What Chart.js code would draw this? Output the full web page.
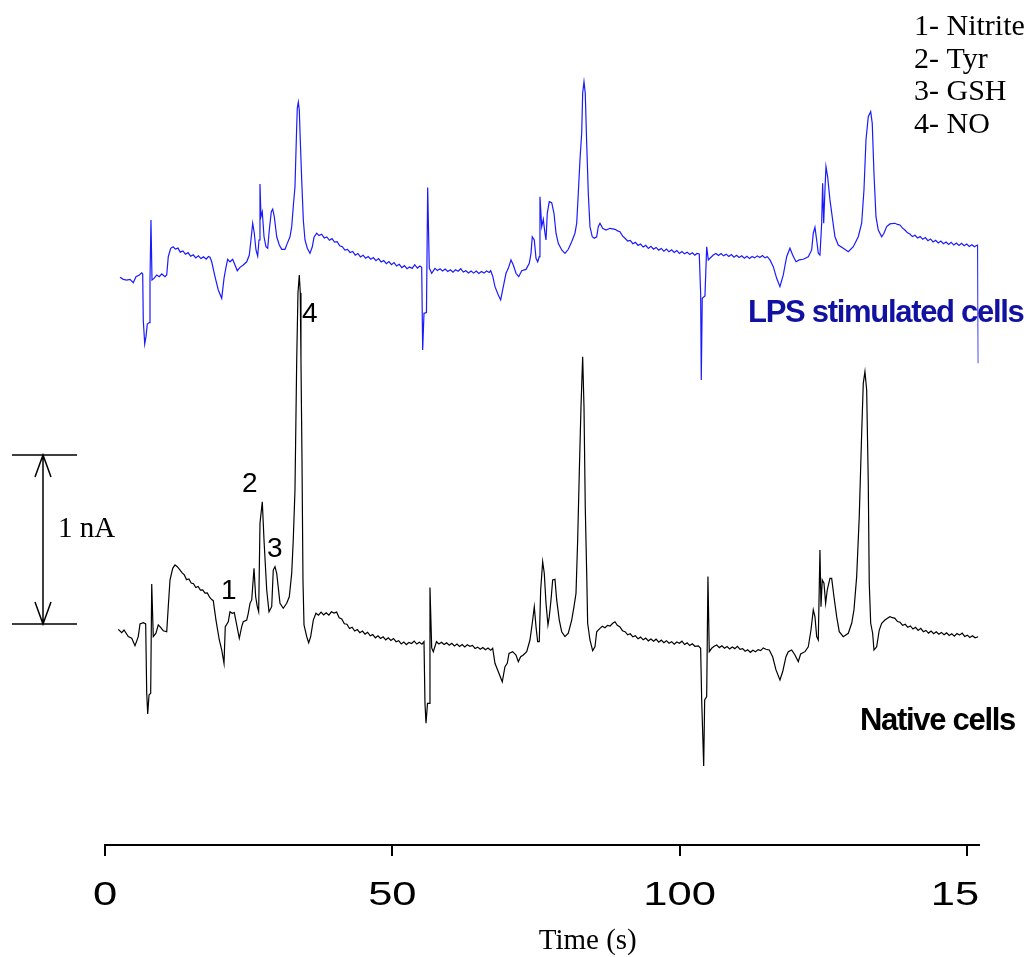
<!DOCTYPE html>
<html>
<head>
<meta charset="utf-8">
<title>Amperometric traces</title>
<script src="https://cdn.jsdelivr.net/npm/chart.js@4/dist/chart.umd.min.js"></script>
<style>
  html, body { margin: 0; padding: 0; background: #fff; }
  #wrap { width: 1033px; height: 957px; position: relative; }
</style>
</head>
<body>
<div id="wrap"><canvas id="c" width="1033" height="957"></canvas></div>
<script>
// Electropherogram traces as [time (s), current (nA, stacked offset)]
const nativeTrace = [
  [2.31,1.276],[2.91,1.256],[3.31,1.272],[4.05,1.233],[4.65,1.223],[5.22,1.179],[5.79,1.233],[6.09,1.308],[6.66,1.315],[7.08,1.308],
  [7.26,0.898],[7.43,0.775],[7.66,0.888],[7.95,0.898],[8.13,1.544],[8.40,1.233],[8.87,1.253],[9.27,1.302],[9.57,1.292],[10.14,1.268],
  [10.74,1.262],[11.01,1.410],[11.31,1.568],[11.78,1.637],
  [12.18,1.657],[12.58,1.647],[13.00,1.630],[13.40,1.612],[13.80,1.598],[14.20,1.570],[14.60,1.574],[15.00,1.550],[15.40,1.546],[15.80,1.524],
  [16.20,1.530],[16.60,1.508],[17.00,1.510],[17.40,1.490],[17.80,1.492],[18.20,1.466],[18.57,1.452],[18.84,1.446],
  [19.31,1.331],[19.89,1.213],[20.31,1.154],[20.71,1.075],[20.93,1.292],[21.45,1.321],[21.75,1.380],
  [22.15,1.371],[22.50,1.375],[22.92,1.302],[23.37,1.223],[23.79,1.292],[24.06,1.321],[24.66,1.331],[24.93,1.371],[25.23,1.430],[25.53,1.450],
  [25.93,1.637],[26.22,1.469],[26.50,1.410],[26.74,1.380],[26.97,1.904],[27.37,2.031],[27.67,1.805],[28.14,1.509],[28.54,1.380],[29.01,1.410],
  [29.28,1.627],[29.58,1.647],[29.88,1.608],[30.45,1.430],[31.02,1.401],[31.62,1.430],[32.07,1.469],[32.49,1.608],[32.76,1.805],[33.06,2.101],
  [33.36,2.870],[33.58,3.266],[33.81,3.373],[33.98,3.266],[34.10,2.870],[34.28,2.278],[34.45,1.568],[34.63,1.302],[35.10,1.233],[35.44,1.197],
  [35.79,1.233],[36.25,1.331],
  [36.71,1.371],[37.15,1.360],[37.60,1.378],[38.05,1.362],[38.50,1.374],[38.95,1.360],[39.40,1.380],[39.85,1.372],[40.30,1.378],[40.75,1.344],
  [41.20,1.338],[41.65,1.309],[42.10,1.306],[42.55,1.281],[43.00,1.289],[43.45,1.266],[43.90,1.275],[44.35,1.256],[44.80,1.266],[45.25,1.248],
  [45.70,1.259],[46.15,1.238],[46.60,1.245],[47.05,1.226],[47.50,1.238],[47.95,1.222],[48.40,1.232],[48.85,1.214],[49.30,1.226],[49.75,1.210],
  [50.20,1.222],[50.65,1.203],[51.10,1.209],[51.55,1.190],[52.00,1.201],[52.45,1.186],[52.90,1.199],[53.35,1.192],[53.80,1.207],[54.25,1.189],
  [54.70,1.200],[55.15,1.188],[55.51,1.203],
  [55.68,0.838],[55.86,0.720],[56.12,0.838],[56.43,0.838],[56.55,1.524],[56.85,1.166],[57.13,1.144],
  [57.68,1.203],[58.10,1.190],[58.55,1.200],[59.00,1.186],[59.45,1.196],[59.90,1.182],[60.35,1.194],[60.80,1.178],[61.25,1.189],[61.70,1.175],
  [62.15,1.186],[62.60,1.172],[63.05,1.185],[63.50,1.176],[63.95,1.181],[64.40,1.163],[64.85,1.171],[65.30,1.158],[65.75,1.169],[66.20,1.155],
  [66.65,1.165],[67.10,1.152],[67.46,1.164],
  [67.86,1.075],[68.44,1.025],[69.13,0.966],[69.60,1.055],[70.00,1.075],[70.30,1.134],[70.94,1.144],[71.52,1.124],[71.92,1.085],[72.33,1.114],
  [72.79,1.124],[73.38,1.144],[73.95,1.213],[74.35,1.312],[74.70,1.410],[75.00,1.292],[75.29,1.203],[75.57,1.203],[75.81,1.509],[76.16,1.676],
  [76.44,1.608],[76.74,1.430],[77.08,1.302],[77.31,1.351],[77.61,1.450],[77.90,1.568],[78.30,1.572],[78.60,1.450],[79.05,1.331],[79.47,1.262],
  [80.04,1.233],[80.62,1.253],[81.21,1.331],[81.61,1.410],[81.96,1.489],[82.25,1.805],[82.53,2.199],[82.83,2.594],[83.12,2.889],[83.35,2.594],
  [83.57,2.002],[83.82,1.608],[83.99,1.312],[84.39,1.213],[84.86,1.150],[85.26,1.173],[85.56,1.262],
  [86.13,1.282],[86.55,1.294],[87.00,1.286],[87.45,1.300],[87.90,1.296],[88.35,1.312],[88.74,1.321],[89.15,1.300],[89.61,1.290],[90.05,1.268],
  [90.50,1.262],[90.95,1.244],[91.40,1.250],[91.85,1.232],[92.30,1.238],[92.75,1.220],[93.20,1.230],[93.65,1.214],[94.10,1.224],[94.55,1.208],
  [95.00,1.219],[95.45,1.206],[95.90,1.218],[96.35,1.200],[96.80,1.212],[97.25,1.197],[97.70,1.209],[98.15,1.194],[98.60,1.203],[99.05,1.188],
  [99.50,1.201],[99.95,1.194],[100.40,1.206],[100.85,1.186],[101.30,1.196],[101.75,1.180],[102.20,1.191],[102.65,1.176],[103.24,1.178],
  [103.65,1.164],[103.83,0.858],[104.18,0.467],[104.35,0.858],[104.70,0.878],[104.92,1.588],[105.15,1.144],
  [105.57,1.164],[106.00,1.176],[106.44,1.183],[106.90,1.168],[107.35,1.179],[107.80,1.164],[108.25,1.174],[108.70,1.160],[109.15,1.172],[109.60,1.162],
  [110.05,1.176],[110.50,1.158],[110.95,1.162],[111.40,1.147],[111.85,1.155],[112.30,1.140],[112.75,1.152],[113.20,1.144],[113.65,1.156],[114.10,1.150],
  [114.55,1.166],[115.00,1.158],[115.59,1.154],
  [116.18,1.114],[116.76,1.036],[117.45,0.976],[117.92,1.025],[118.50,1.114],[118.90,1.144],[119.49,1.154],[120.06,1.124],[120.64,1.085],
  [121.05,1.130],[121.80,1.144],[122.38,1.173],[122.85,1.272],[123.25,1.391],[123.54,1.351],[123.84,1.233],[124.12,1.213],[124.41,1.746],[124.59,1.410],
  [124.81,1.568],[125.11,1.549],[125.40,1.430],[125.68,1.509],[126.15,1.578],[126.45,1.578],[126.85,1.469],[127.32,1.351],[127.77,1.262],[128.47,1.233],
  [129.34,1.253],[129.93,1.312],[130.33,1.391],[130.80,1.588],[131.25,1.943],[131.67,2.436],[131.95,2.732],[132.24,2.801],[132.54,2.692],[132.82,2.140],
  [132.99,1.549],[133.24,1.312],[133.58,1.253],[133.81,1.154],[134.28,1.173],[134.73,1.272],[135.15,1.312],
  [135.72,1.331],[136.15,1.342],[136.59,1.351],[137.05,1.345],[137.46,1.341],[137.90,1.322],[138.35,1.318],[138.80,1.300],[139.25,1.306],[139.70,1.288],
  [140.15,1.296],[140.60,1.278],[141.05,1.288],[141.50,1.270],[141.95,1.282],[142.40,1.262],[142.85,1.270],[143.30,1.254],[143.75,1.266],[144.20,1.250],
  [144.65,1.262],[145.10,1.247],[145.55,1.258],[146.00,1.244],[146.45,1.255],[146.90,1.240],[147.35,1.250],[147.80,1.236],[148.25,1.251],[148.70,1.242],
  [149.15,1.254],[149.60,1.234],[150.05,1.242],[150.50,1.228],[150.95,1.238],[151.40,1.226],[151.96,1.232]
];

const lpsTrace = [
  [2.61,3.359],[3.18,3.347],[3.78,3.343],[4.35,3.347],[4.92,3.327],[5.39,3.363],[5.97,3.373],[6.39,3.386],[6.56,3.379],[6.66,3.107],
  [6.91,2.964],[7.13,3.008],[7.36,3.083],[7.71,3.091],[7.83,3.343],[8.00,3.698],[8.18,3.343],[8.53,3.353],[9.00,3.373],[9.45,3.363],
  [9.87,3.379],[10.44,3.363],[10.74,3.373],[11.01,3.481],
  [11.43,3.531],[11.85,3.540],[12.25,3.526],[12.70,3.532],[13.10,3.508],[13.55,3.515],[14.00,3.496],[14.45,3.505],[14.90,3.484],[15.35,3.492],
  [15.80,3.474],[16.25,3.486],[16.70,3.470],[17.15,3.480],[17.60,3.466],[18.00,3.482],[18.27,3.478],
  [18.57,3.451],[19.14,3.363],[19.71,3.284],[20.31,3.235],[20.71,3.353],[21.05,3.418],[21.35,3.466],
  [21.75,3.451],[22.22,3.466],[22.62,3.432],[23.02,3.398],[23.49,3.418],[24.06,3.432],[24.66,3.451],[25.11,3.491],[25.40,3.580],[25.70,3.679],
  [25.98,3.620],[26.27,3.521],[26.57,3.485],[26.80,3.580],[26.97,3.911],[27.14,3.718],[27.37,3.747],[27.67,3.599],[28.01,3.540],[28.31,3.531],
  [28.59,3.639],[28.94,3.747],[29.18,3.762],[29.46,3.718],[29.88,3.599],[30.33,3.550],[30.75,3.525],[31.32,3.525],[31.72,3.560],[32.19,3.599],
  [32.49,3.659],[32.76,3.777],[33.06,3.895],[33.29,4.172],[33.46,4.361],[33.64,4.396],[33.81,4.349],[33.98,4.172],[34.23,3.935],[34.51,3.698],
  [34.80,3.580],[35.20,3.531],[35.67,3.501],[36.07,3.540],[36.37,3.596],
  [36.84,3.620],[37.25,3.606],[37.70,3.614],[38.15,3.592],[38.60,3.598],[39.05,3.578],[39.50,3.588],[39.95,3.568],[40.40,3.570],[40.85,3.546],
  [41.30,3.540],[41.75,3.520],[42.20,3.524],[42.65,3.506],[43.10,3.512],[43.55,3.490],[44.00,3.500],[44.45,3.480],[44.90,3.490],[45.35,3.472],
  [45.80,3.482],[46.25,3.466],[46.70,3.476],[47.15,3.458],[47.60,3.470],[48.05,3.450],[48.50,3.458],[48.95,3.440],[49.40,3.452],[49.85,3.434],
  [50.30,3.446],[50.75,3.426],[51.20,3.436],[51.65,3.416],[52.10,3.428],[52.55,3.410],[53.00,3.420],[53.45,3.412],[53.90,3.434],[54.35,3.414],
  [54.80,3.426],[55.11,3.418],
  [55.28,2.929],[55.51,3.146],[55.94,3.150],[56.15,3.891],[56.43,3.414],[56.85,3.383],
  [57.42,3.412],[57.85,3.400],[58.30,3.410],[58.75,3.396],[59.20,3.408],[59.65,3.394],[60.10,3.404],[60.55,3.390],[61.00,3.404],[61.45,3.395],
  [61.90,3.410],[62.35,3.390],[62.80,3.398],[63.25,3.385],[63.70,3.396],[64.15,3.384],[64.60,3.396],[65.05,3.382],[65.50,3.394],[65.95,3.384],
  [66.40,3.396],[66.85,3.388],[67.11,3.398],
  [67.46,3.367],[67.86,3.304],[68.44,3.254],[68.85,3.225],[69.31,3.304],[69.78,3.383],[70.18,3.412],[70.65,3.462],[71.05,3.432],[71.52,3.383],
  [71.99,3.363],[72.51,3.398],[73.26,3.406],[73.83,3.442],[74.13,3.501],[74.35,3.599],[74.70,3.580],[75.00,3.472],[75.29,3.451],[75.57,3.481],
  [75.69,3.836],[75.99,3.659],[76.27,3.702],[76.56,3.620],[76.74,3.580],[76.96,3.738],[77.31,3.807],[77.73,3.801],[78.13,3.738],[78.48,3.620],
  [78.88,3.560],[79.47,3.521],[80.04,3.501],[80.62,3.525],[81.21,3.570],[81.78,3.620],[82.08,3.679],[82.36,3.856],[82.65,4.053],[82.95,4.211],
  [83.12,4.448],[83.35,4.517],[83.57,4.448],[83.82,4.152],[84.10,3.856],[84.39,3.659],[84.79,3.599],[85.14,3.590],[85.56,3.599],[85.84,3.659],
  [86.13,3.679],[86.60,3.649],[87.18,3.639],[87.87,3.649],
  [88.74,3.643],[89.20,3.634],[89.61,3.629],[90.05,3.604],[90.48,3.590],[90.95,3.574],[91.40,3.578],[91.85,3.558],[92.30,3.566],[92.75,3.548],
  [93.20,3.556],[93.65,3.538],[94.10,3.548],[94.55,3.530],[95.00,3.542],[95.45,3.526],[95.90,3.536],[96.35,3.520],[96.80,3.530],[97.25,3.514],
  [97.70,3.526],[98.15,3.510],[98.60,3.522],[99.05,3.506],[99.50,3.518],[99.95,3.500],[100.40,3.512],[100.85,3.498],[101.30,3.508],[101.75,3.494],
  [102.20,3.504],[102.65,3.490],[103.00,3.500],[103.41,3.497],
  [103.65,3.264],[103.76,2.751],[103.93,3.235],[104.40,3.249],[104.70,3.540],[104.98,3.462],
  [105.85,3.491],[106.30,3.500],[106.75,3.488],[107.20,3.500],[107.65,3.486],[108.10,3.496],[108.55,3.482],[109.00,3.494],[109.45,3.478],[109.90,3.490],
  [110.35,3.476],[110.80,3.486],[111.25,3.472],[111.70,3.484],[112.15,3.470],[112.60,3.482],[113.05,3.474],[113.50,3.486],[113.95,3.476],[114.40,3.488],
  [114.85,3.474],[115.24,3.481],
  [115.71,3.462],[116.29,3.422],[116.88,3.353],[117.45,3.304],[118.03,3.373],[118.62,3.481],[119.19,3.531],[119.66,3.491],
  [120.24,3.451],[120.81,3.462],[121.51,3.466],[122.38,3.481],[122.97,3.521],[123.25,3.620],[123.54,3.655],[123.84,3.580],[124.12,3.501],[124.41,3.491],
  [124.71,3.679],[124.88,3.915],[125.06,3.679],[125.28,3.876],[125.46,4.014],[125.75,3.954],[126.15,3.817],[126.62,3.698],[127.02,3.599],[127.60,3.550],
  [128.47,3.531],[129.34,3.511],[130.21,3.540],[131.08,3.599],[131.67,3.679],[132.07,3.876],[132.42,4.172],[132.82,4.309],[133.24,4.339],[133.51,4.270],
  [133.81,3.975],[134.16,3.718],[134.56,3.639],[135.15,3.599],[135.55,3.620],[136.02,3.659],[136.59,3.675],
  [137.46,3.679],[137.90,3.672],[138.33,3.669],[138.78,3.650],[139.20,3.639],[139.65,3.622],[140.07,3.615],[140.50,3.600],[140.95,3.608],[141.40,3.592],
  [141.85,3.600],[142.30,3.584],[142.75,3.594],[143.20,3.576],[143.65,3.586],[144.10,3.568],[144.55,3.578],[145.00,3.562],[145.45,3.574],[145.90,3.558],
  [146.35,3.568],[146.80,3.554],[147.25,3.566],[147.70,3.550],[148.15,3.562],[148.60,3.548],[149.05,3.560],[149.50,3.546],[149.95,3.556],[150.40,3.542],
  [150.85,3.552],[151.30,3.540],[151.56,3.546],
  [151.85,3.550],[151.96,2.850]
];

// Axis ticks (the last label is cut short at the frame edge)
const tickValues = [0, 50, 100, 150];
const tickLabels = ['0', '50', '100', '15'];

// Peak numbering on the native trace and where each number sits (s, nA)
const peakLabels = ['1', '2', '3', '4'];
const peakLabelTimes = [20.18, 23.84, 28.19, 34.28];
const peakLabelCurrents = [1.456, 2.089, 1.704, 3.095];

// Compound key
const compoundKey = ['1- Nitrite', '2- Tyr', '3- GSH', '4- NO'];

// Series names
const seriesNames = ['LPS stimulated cells', 'Native cells'];

// Current scale bar: 1 nA, starting at this level
const scaleBarSize = 1;
const scaleBarBase = 1.308;

const SERIF = '"Liberation Serif", "Times New Roman", serif';
const SANS = '"Liberation Sans", Arial, sans-serif';

const decorations = {
  id: 'decorations',
  afterDraw(chart) {
    const { ctx, scales: { x, y } } = chart;
    ctx.save();
    ctx.fillStyle = '#000';
    ctx.strokeStyle = '#000';
    ctx.textBaseline = 'alphabetic';

    // wide axis numbers
    const stretch = 1.28;
    ctx.font = '34px ' + SANS;
    ctx.textAlign = 'left';
    tickValues.forEach((v, i) => {
      const fullWidth = ctx.measureText(String(v)).width * stretch;
      const left = x.getPixelForValue(v) - fullWidth / 2;
      ctx.save();
      ctx.translate(left, x.top + 60);
      ctx.scale(stretch, 1);
      ctx.fillText(tickLabels[i], 0, 0);
      ctx.restore();
    });

    // axis title
    ctx.font = '29px ' + SERIF;
    ctx.textAlign = 'center';
    ctx.fillText('Time (s)', x.getPixelForValue(84), x.top + 104);

    // compound key, top right
    ctx.font = '30px ' + SERIF;
    ctx.textAlign = 'left';
    compoundKey.forEach((s, i) => ctx.fillText(s, 914, 35 + i * 32.7));

    // peak numbers
    ctx.font = '28px ' + SANS;
    peakLabels.forEach((s, i) => {
      ctx.fillText(s, x.getPixelForValue(peakLabelTimes[i]), y.getPixelForValue(peakLabelCurrents[i]));
    });

    // series names
    ctx.font = 'bold 31px ' + SANS;
    ctx.letterSpacing = '-1.3px';
    ctx.fillStyle = '#1212a2';
    ctx.fillText(seriesNames[0], 748, 322);
    ctx.fillStyle = '#000';
    ctx.fillText(seriesNames[1], 860, 730);
    ctx.letterSpacing = '0px';

    // 1 nA scale bar with arrows
    const yTop = y.getPixelForValue(scaleBarBase + scaleBarSize);
    const yBot = y.getPixelForValue(scaleBarBase);
    const bx = 43;
    ctx.lineWidth = 1.5;
    ctx.beginPath();
    ctx.moveTo(12, yTop); ctx.lineTo(77, yTop);
    ctx.moveTo(12, yBot); ctx.lineTo(77, yBot);
    ctx.moveTo(bx, yTop); ctx.lineTo(bx, yBot);
    ctx.moveTo(bx - 8, yTop + 22); ctx.lineTo(bx, yTop); ctx.lineTo(bx + 8, yTop + 22);
    ctx.moveTo(bx - 8, yBot - 22); ctx.lineTo(bx, yBot); ctx.lineTo(bx + 8, yBot - 22);
    ctx.stroke();
    ctx.font = '29px ' + SERIF;
    ctx.fillText(scaleBarSize + ' nA', 58, 537);

    ctx.restore();
  }
};

const toPoints = arr => arr.map(([t, v]) => ({ x: t, y: v }));

new Chart(document.getElementById('c'), {
  type: 'line',
  data: {
    datasets: [
      { label: seriesNames[0], data: toPoints(lpsTrace), borderColor: '#1a1aff', borderWidth: 1.2,
        pointRadius: 0, tension: 0, fill: false },
      { label: seriesNames[1], data: toPoints(nativeTrace), borderColor: '#000000', borderWidth: 1.2,
        pointRadius: 0, tension: 0, fill: false }
    ]
  },
  options: {
    responsive: false,
    animation: false,
    events: [],
    layout: { padding: { left: 105, right: 54.5, top: 0, bottom: 101 } },
    plugins: { legend: { display: false }, tooltip: { enabled: false } },
    scales: {
      x: {
        type: 'linear', min: 0, max: 152,
        afterBuildTicks: s => { s.ticks = tickValues.map(v => ({ value: v })); },
        grid: { drawOnChartArea: false, drawTicks: true, tickLength: 11, color: '#000', lineWidth: 2 },
        border: { display: true, color: '#000', width: 2 },
        ticks: { display: false }
      },
      y: { display: false, min: 0, max: 5 }
    }
  },
  plugins: [decorations]
});
</script>
</body>
</html>
